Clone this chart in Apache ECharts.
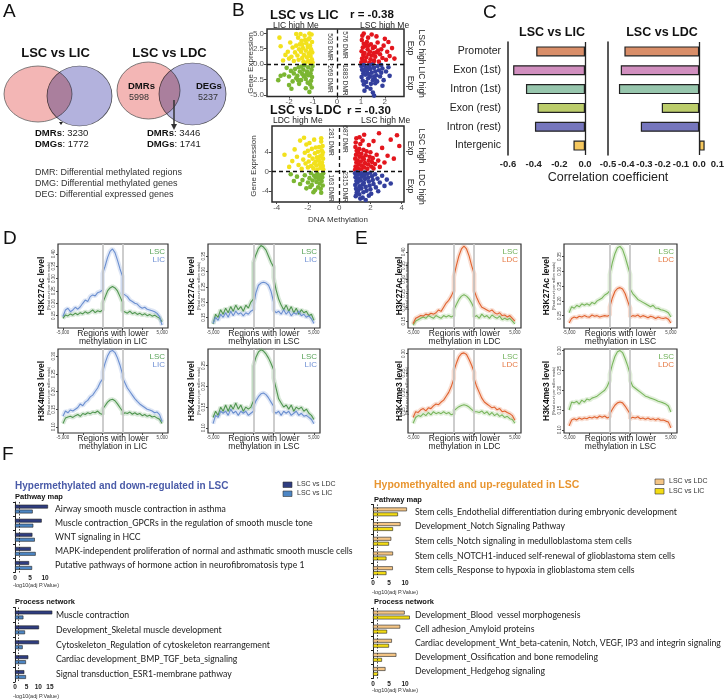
<!DOCTYPE html>
<html><head><meta charset="utf-8">
<script src="https://cdn.jsdelivr.net/npm/echarts@6/dist/echarts.min.js"></script>
<style>html,body{margin:0;padding:0;background:#fff}#c{width:727px;height:699px}</style>
</head><body><div id="c"></div><script>
// ================= DATA =================
// Panel A (Venn)
const vennLicDMRs = 3230, vennLicDMGs = 1772;
const vennLdcDMRsAll = 5998, vennLdcDEGsAll = 5237, vennLdcDMRs = 3446, vennLdcDMGs = 1741;
const vennDefs = ['DMR: Differential methylated regions', 'DMG: Differential methylated genes', 'DEG: Differential expressed genes'];

// Panel B (scatter) [methylation, expression]
const licYellow = [[-1.02,0.3],[-1.05,0.8],[-1.1,1.3],[-1.03,1.9],[-1.08,2.4],[-1.12,3.0],[-1.04,3.6],[-1.15,4.2],[-1.06,4.8],[-1.2,0.5],[-1.25,1.1],[-1.18,1.7],[-1.3,2.2],[-1.22,2.8],[-1.28,3.4],[-1.2,4.0],[-1.35,4.6],[-1.4,0.4],[-1.45,1.0],[-1.38,1.5],[-1.5,2.0],[-1.42,2.6],[-1.55,3.2],[-1.48,3.8],[-1.6,0.7],[-1.65,1.4],[-1.58,2.4],[-1.7,3.0],[-1.62,4.3],[-1.75,1.9],[-1.8,0.5],[-1.85,2.7],[-1.9,1.2],[-1.95,3.5],[-2.0,0.9],[-2.05,2.0],[-2.15,1.5],[-2.25,0.6],[-2.35,2.9],[-2.4,4.3],[-1.12,0.15],[-1.32,0.2],[-1.52,4.9],[-1.15,4.95],[-1.7,4.9],[-1.33,3.9],[-1.1,2.1],[-1.45,3.2]];
const licGreen = [[-1.02,-0.3],[-1.06,-0.9],[-1.1,-1.5],[-1.04,-2.1],[-1.08,-2.7],[-1.12,-3.3],[-1.2,-0.5],[-1.25,-1.2],[-1.18,-1.8],[-1.3,-2.4],[-1.22,-3.0],[-1.35,-0.2],[-1.4,-0.9],[-1.45,-1.6],[-1.38,-2.0],[-1.5,-2.6],[-1.55,-1.2],[-1.6,-0.5],[-1.65,-1.9],[-1.58,-3.2],[-1.7,-2.3],[-1.75,-0.8],[-1.8,-1.5],[-1.85,-2.8],[-1.92,-1.1],[-2.0,-2.0],[-2.1,-0.6],[-2.2,-1.7],[-2.35,-1.9],[-2.45,-2.6],[-2.0,-3.4],[-1.3,-3.9],[-1.15,-4.5],[-1.9,-4.0],[-1.05,-3.8],[-1.48,-0.4],[-1.28,-1.7],[-1.62,-2.6]];
const licRed = [[1.02,0.3],[1.05,0.9],[1.1,1.5],[1.03,2.1],[1.08,2.7],[1.12,3.3],[1.04,3.9],[1.06,4.6],[1.18,0.5],[1.22,1.1],[1.15,1.8],[1.28,2.4],[1.2,3.0],[1.25,3.6],[1.3,4.3],[1.35,0.2],[1.4,0.8],[1.45,1.4],[1.38,2.0],[1.5,2.6],[1.42,3.2],[1.55,0.6],[1.6,1.2],[1.65,1.9],[1.58,2.8],[1.7,3.5],[1.75,0.4],[1.8,1.6],[1.85,2.4],[1.9,1.0],[1.95,3.0],[2.05,0.7],[2.1,2.0],[2.2,1.3],[2.3,2.6],[2.4,0.9],[1.65,4.5],[2.0,4.1],[1.45,4.8],[1.12,4.95],[1.32,1.6],[1.72,2.2],[1.52,0.3],[2.15,3.6],[1.1,0.6],[1.3,3.0],[1.55,1.8]];
const licBlue = [[1.02,-0.3],[1.05,-0.9],[1.1,-1.5],[1.03,-2.1],[1.08,-2.7],[1.12,-3.3],[1.2,-0.5],[1.25,-1.1],[1.18,-1.7],[1.3,-2.3],[1.22,-2.9],[1.35,-0.2],[1.4,-0.8],[1.45,-1.4],[1.38,-2.0],[1.5,-2.6],[1.42,-3.2],[1.55,-0.6],[1.6,-1.2],[1.65,-1.8],[1.58,-2.4],[1.7,-0.3],[1.75,-1.0],[1.8,-2.0],[1.85,-1.4],[1.9,-0.7],[1.95,-2.6],[2.05,-1.2],[2.15,-0.5],[1.25,-3.7],[1.6,-3.1],[1.4,-4.0],[1.5,-4.6],[1.55,-5.1],[1.15,-4.3],[1.9,-3.5],[2.2,-1.9],[1.32,-1.6],[1.68,-2.8],[1.12,-0.15],[1.48,-0.1],[1.85,-0.15],[1.1,-1.0],[1.3,-0.7],[1.55,-2.0]];
const ldcYellow = [[-1.02,0.4],[-1.05,1.1],[-1.1,1.8],[-1.03,2.6],[-1.08,3.4],[-1.12,4.3],[-1.06,5.2],[-1.15,6.1],[-1.2,0.7],[-1.25,1.5],[-1.3,2.3],[-1.22,3.1],[-1.35,4.0],[-1.28,5.0],[-1.4,0.3],[-1.45,1.2],[-1.5,2.0],[-1.42,2.9],[-1.55,3.7],[-1.6,1.6],[-1.65,0.6],[-1.7,2.6],[-1.75,4.6],[-1.8,1.1],[-1.9,3.2],[-1.95,2.0],[-2.0,0.8],[-2.1,5.5],[-2.15,1.6],[-2.2,3.8],[-2.3,2.4],[-2.4,0.5],[-2.5,6.3],[-2.6,1.3],[-2.7,3.0],[-2.85,4.5],[-3.0,2.1],[-3.2,0.9],[-3.5,3.4],[-1.15,6.8],[-1.6,6.5],[-1.9,5.8],[-2.25,6.9],[-1.35,2.7],[-1.5,4.9],[-2.0,4.2],[-1.05,3.9]];
const ldcGreen = [[-1.02,-0.4],[-1.08,-1.2],[-1.12,-2.0],[-1.05,-2.9],[-1.18,-3.6],[-1.2,-0.8],[-1.3,-1.6],[-1.25,-2.5],[-1.35,-3.3],[-1.4,-0.5],[-1.5,-1.3],[-1.45,-2.2],[-1.55,-3.9],[-1.6,-0.9],[-1.7,-1.9],[-1.75,-2.8],[-1.8,-0.4],[-1.9,-1.4],[-2.0,-2.3],[-2.1,-3.5],[-2.2,-0.8],[-2.35,-1.8],[-2.5,-2.6],[-2.7,-1.1],[-2.9,-2.0],[-3.1,-0.6],[-1.15,-4.4],[-1.65,-4.3],[-1.38,-1.0],[-1.85,-3.2]];
const ldcRed = [[1.02,0.3],[1.05,1.0],[1.1,1.8],[1.03,2.6],[1.08,3.4],[1.12,4.2],[1.04,5.0],[1.06,5.9],[1.1,6.8],[1.2,0.6],[1.25,1.4],[1.18,2.2],[1.3,3.0],[1.22,3.8],[1.28,4.6],[1.35,5.6],[1.4,0.4],[1.45,1.2],[1.38,2.0],[1.5,2.8],[1.42,3.6],[1.55,4.4],[1.6,0.8],[1.65,1.7],[1.58,2.5],[1.7,3.3],[1.75,4.1],[1.8,0.5],[1.85,1.4],[1.9,2.2],[1.95,3.0],[2.0,3.9],[2.05,1.0],[2.1,1.9],[2.15,2.7],[2.2,0.6],[2.3,1.5],[2.4,3.4],[2.5,2.2],[2.6,0.9],[2.75,4.8],[2.9,1.8],[3.1,3.2],[3.3,6.5],[3.5,2.6],[3.7,7.4],[3.85,5.2],[2.2,6.2],[1.6,7.5],[2.55,7.8],[1.3,7.0],[1.9,5.4],[1.5,6.3]];
const ldcBlue = [[1.02,-0.4],[1.05,-1.2],[1.1,-2.0],[1.03,-2.8],[1.08,-3.6],[1.12,-4.4],[1.06,-5.1],[1.2,-0.7],[1.25,-1.5],[1.18,-2.3],[1.3,-3.1],[1.22,-3.9],[1.28,-4.7],[1.4,-0.4],[1.45,-1.1],[1.38,-1.9],[1.5,-2.7],[1.42,-3.5],[1.55,-4.3],[1.6,-0.8],[1.65,-1.6],[1.58,-2.4],[1.7,-3.2],[1.75,-4.0],[1.8,-0.5],[1.85,-1.3],[1.9,-2.1],[1.95,-2.9],[2.0,-3.7],[2.05,-4.6],[2.1,-1.0],[2.15,-1.8],[2.2,-2.6],[2.3,-0.6],[2.35,-3.3],[2.45,-1.5],[2.6,-2.3],[2.75,-0.9],[2.9,-3.0],[3.05,-1.7],[3.3,-2.5],[1.5,-5.4],[1.7,-5.9],[1.35,-5.6],[1.9,-5.0],[2.5,-4.1],[1.15,-0.2],[1.62,-0.25],[2.0,-0.3]];
const licR = '-0.38', ldcR = '-0.30';
const licDMR = [503, 576, 269, 1883];   // upper-left, upper-right, lower-left, lower-right
const ldcDMR = [281, 687, 163, 2315];
const bLicXTicks = [-2, -1, 0, 1, 2], bLicYTicks = [-5, -2.5, 0, 2.5, 5];
const bLdcXTicks = [-4, -2, 0, 2, 4], bLdcYTicks = [-4, 0, 4];

// Panel C (correlation)
const regionCats = ['Promoter', 'Exon (1st)', 'Intron (1st)', 'Exon (rest)', 'Intron (rest)', 'Intergenic'];
const corrLIC = [-0.38, -0.56, -0.46, -0.37, -0.39, -0.09];
const corrLDC = [-0.41, -0.43, -0.44, -0.205, -0.32, 0.03];

// Panels D / E (profiles)
const profileX = [-5000,-4750,-4500,-4250,-4000,-3750,-3500,-3250,-3000,-2750,-2500,-2250,-2000,-1750,-1500,-1250,-1000,
  -1000,-750,-500,-250,0,250,500,750,1000,
  1000,1250,1500,1750,2000,2250,2500,2750,3000,3250,3500,3750,4000,4250,4500,4750,5000];
const profXTicks = [-5000, -3000, -1000, 1000, 3000, 5000], profXLabels = [-5000, 5000];
const regionBounds = [-1000, 1000];
const d1TopLIC = [0.146,0.173,0.180,0.166,0.173,0.184,0.176,0.186,0.200,0.213,0.207,0.227,0.234,0.230,0.243,0.247,0.254, 0.320,0.350,0.385,0.410,0.420,0.405,0.375,0.340,0.310, 0.240,0.234,0.227,0.213,0.207,0.200,0.197,0.186,0.180,0.184,0.176,0.173,0.170,0.166,0.159,0.146,0.112];
const d1TopLSC = [0.139,0.153,0.149,0.157,0.152,0.160,0.154,0.162,0.157,0.166,0.160,0.165,0.173,0.162,0.170,0.166,0.173, 0.200,0.225,0.250,0.262,0.268,0.262,0.250,0.228,0.205, 0.170,0.165,0.160,0.168,0.158,0.163,0.155,0.160,0.152,0.158,0.150,0.155,0.148,0.152,0.145,0.140,0.125];
const d2TopLSC = [0.128,0.160,0.150,0.175,0.160,0.180,0.165,0.185,0.170,0.190,0.175,0.185,0.170,0.190,0.180,0.200,0.210, 0.330,0.355,0.375,0.385,0.380,0.370,0.350,0.330,0.315, 0.280,0.240,0.210,0.190,0.175,0.190,0.170,0.185,0.165,0.180,0.160,0.175,0.165,0.170,0.155,0.160,0.140];
const d2TopLIC = [0.130,0.150,0.140,0.160,0.150,0.165,0.150,0.170,0.155,0.170,0.160,0.165,0.155,0.165,0.160,0.170,0.175, 0.190,0.230,0.255,0.262,0.265,0.262,0.255,0.235,0.200, 0.175,0.165,0.170,0.160,0.175,0.160,0.170,0.155,0.165,0.160,0.170,0.155,0.160,0.150,0.155,0.145,0.130];
const d1BotLIC = [0.130,0.145,0.140,0.148,0.145,0.150,0.155,0.165,0.160,0.170,0.175,0.185,0.190,0.200,0.210,0.225,0.235, 0.255,0.280,0.300,0.313,0.316,0.310,0.295,0.275,0.250, 0.240,0.225,0.210,0.200,0.190,0.180,0.172,0.165,0.160,0.155,0.150,0.148,0.145,0.140,0.142,0.135,0.115];
const d1BotLSC = [0.110,0.125,0.128,0.130,0.127,0.132,0.135,0.130,0.138,0.135,0.140,0.137,0.142,0.140,0.145,0.138,0.135, 0.150,0.160,0.170,0.176,0.178,0.174,0.165,0.155,0.145, 0.135,0.140,0.138,0.142,0.136,0.140,0.135,0.138,0.132,0.135,0.130,0.133,0.128,0.130,0.125,0.122,0.110];
const d2BotLSC = [0.125,0.140,0.130,0.150,0.140,0.155,0.140,0.155,0.145,0.160,0.145,0.155,0.140,0.150,0.145,0.150,0.165, 0.250,0.270,0.283,0.288,0.285,0.278,0.268,0.255,0.240, 0.220,0.195,0.170,0.160,0.150,0.155,0.145,0.155,0.140,0.150,0.145,0.150,0.140,0.145,0.135,0.130,0.120];
const d2BotLIC = [0.110,0.130,0.125,0.140,0.135,0.140,0.130,0.145,0.135,0.140,0.130,0.140,0.135,0.140,0.130,0.135,0.140, 0.150,0.165,0.175,0.182,0.184,0.180,0.172,0.162,0.152, 0.140,0.135,0.140,0.130,0.140,0.135,0.140,0.130,0.135,0.140,0.130,0.135,0.128,0.130,0.125,0.120,0.110];
const e1TopLDC = [0.140,0.160,0.165,0.170,0.168,0.175,0.172,0.178,0.175,0.180,0.190,0.185,0.200,0.215,0.225,0.240,0.260, 0.310,0.350,0.385,0.410,0.420,0.410,0.385,0.350,0.320, 0.260,0.235,0.215,0.200,0.195,0.190,0.185,0.190,0.180,0.175,0.180,0.170,0.172,0.165,0.170,0.160,0.150];
const e1TopLSC = [0.135,0.150,0.155,0.160,0.165,0.160,0.170,0.165,0.160,0.170,0.165,0.160,0.170,0.165,0.170,0.165,0.170, 0.190,0.210,0.228,0.240,0.245,0.240,0.230,0.215,0.195, 0.165,0.170,0.160,0.175,0.165,0.170,0.160,0.172,0.165,0.160,0.168,0.155,0.160,0.155,0.160,0.150,0.140];
const e1BotLDC = [0.135,0.150,0.148,0.155,0.158,0.152,0.160,0.158,0.165,0.170,0.168,0.175,0.180,0.190,0.200,0.215,0.235, 0.255,0.275,0.292,0.300,0.302,0.298,0.285,0.270,0.252, 0.235,0.215,0.200,0.185,0.175,0.170,0.165,0.160,0.162,0.155,0.158,0.150,0.152,0.148,0.145,0.140,0.128];
const e1BotLSC = [0.120,0.135,0.140,0.138,0.145,0.140,0.148,0.142,0.150,0.145,0.148,0.145,0.150,0.145,0.148,0.142,0.145, 0.152,0.158,0.163,0.166,0.168,0.166,0.162,0.156,0.150, 0.145,0.150,0.148,0.152,0.145,0.150,0.142,0.148,0.140,0.145,0.138,0.142,0.135,0.138,0.132,0.130,0.120];
const e2TopLSC = [0.160,0.180,0.175,0.185,0.180,0.190,0.185,0.190,0.185,0.195,0.190,0.200,0.205,0.210,0.220,0.225,0.235, 0.290,0.330,0.360,0.380,0.385,0.375,0.350,0.320,0.290, 0.240,0.225,0.215,0.205,0.200,0.195,0.190,0.185,0.180,0.185,0.175,0.175,0.170,0.168,0.165,0.160,0.145];
const e2TopLDC = [0.125,0.140,0.145,0.142,0.148,0.145,0.150,0.146,0.145,0.152,0.148,0.150,0.145,0.148,0.150,0.148,0.152, 0.180,0.210,0.232,0.242,0.245,0.240,0.225,0.200,0.175, 0.145,0.150,0.148,0.152,0.145,0.150,0.147,0.143,0.148,0.145,0.140,0.145,0.142,0.140,0.143,0.138,0.125];
const e2BotLSC = [0.150,0.170,0.168,0.172,0.165,0.175,0.170,0.178,0.175,0.180,0.182,0.185,0.190,0.195,0.200,0.210,0.225, 0.240,0.265,0.285,0.297,0.300,0.295,0.280,0.262,0.240, 0.225,0.210,0.205,0.200,0.195,0.190,0.185,0.183,0.180,0.178,0.175,0.172,0.170,0.168,0.165,0.160,0.145];
const e2BotLDC = [0.110,0.125,0.128,0.125,0.130,0.127,0.130,0.128,0.132,0.130,0.133,0.130,0.135,0.132,0.135,0.130,0.133, 0.140,0.152,0.162,0.168,0.170,0.168,0.160,0.150,0.140, 0.128,0.132,0.130,0.133,0.128,0.130,0.127,0.130,0.126,0.128,0.125,0.128,0.124,0.125,0.122,0.120,0.105];

// Panel F (enrichment, -log10 adj P)
const hyperPathNames = ['Airway smooth muscle contraction in asthma', 'Muscle contraction_GPCRs in the regulation of smooth muscle tone', 'WNT signaling in HCC', 'MAPK-independent proliferation of normal and asthmatic smooth muscle cells', 'Putative pathways of hormone action in neurofibromatosis type 1'];
const hyperPathLDC = [11, 8.9, 5.8, 5.3, 4.7];
const hyperPathLIC = [5.9, 6.1, 6.6, 6.9, 5.7];
const hyperProcNames = ['Muscle contraction', 'Development_Skeletal muscle development', 'Cytoskeleton_Regulation of cytoskeleton rearrangement', 'Cardiac development_BMP_TGF_beta_signaling', 'Signal transduction_ESR1-membrane pathway'];
const hyperProcLDC = [16, 10.3, 10.3, 5.7, 4.0];
const hyperProcLIC = [3.6, 4.3, 3.3, 4.7, 4.7];
const hypoPathNames = ['Stem cells_Endothelial differentiation during embryonic development', 'Development_Notch Signaling Pathway', 'Stem cells_Notch signaling in medulloblastoma stem cells', 'Stem cells_NOTCH1-induced self-renewal of glioblastoma stem cells', 'Stem cells_Response to hypoxia in glioblastoma stem cells'];
const hypoPathLDC = [10.6, 8.6, 5.7, 6.25, 6.2];
const hypoPathLIC = [7.8, 6.25, 5.0, 4.2, 4.2];
const hypoProcNames = ['Development_Blood  vessel morphogenesis', 'Cell adhesion_Amyloid proteins', 'Cardiac development_Wnt_beta-catenin, Notch, VEGF, IP3 and integrin signaling', 'Development_Ossification and bone remodeling', 'Development_Hedgehog signaling'];
const hypoProcLDC = [9.9, 8.5, 5.9, 7.3, 3.9];
const hypoProcLIC = [11.5, 4.4, 5.0, 2.8, 1.6];
const sigThreshold = 1.3;
const fTicks10 = [0, 5, 10], fTicks15 = [0, 5, 10, 15];

// ================= BUILD =================
const FONT = '"Liberation Sans", Arial, Helvetica, sans-serif';
const LFONT = 'Lato, "Liberation Sans", sans-serif';
const grids = [], xAxes = [], yAxes = [], series = [], G = [];

function T(x, y, text, o) {
  o = o || {};
  const st = { text: text, fill: o.color || '#222', fontSize: o.size || 9, fontWeight: o.weight || 'normal',
    fontFamily: o.family || FONT, align: o.align || 'left', verticalAlign: o.va || 'middle',
    textAlign: o.align || 'left', textVerticalAlign: o.va || 'middle' };
  if (o.rich) st.rich = o.rich;
  G.push({ type: 'text', x: x, y: y, rotation: o.rot || 0, scaleX: o.sx || 1, z: 100, silent: true, style: st });
}
function addGrid(g, x, y) {
  const i = grids.length;
  grids.push(g);
  x.gridIndex = i; y.gridIndex = i;
  x.axisLine = Object.assign({ onZero: false }, x.axisLine || {});
  y.axisLine = Object.assign({ onZero: false }, y.axisLine || {});
  x.splitLine = { show: false }; y.splitLine = { show: false };
  xAxes.push(x); yAxes.push(y);
  return i;
}

// ---------- Panel letters ----------
[['A', 3, 12], ['B', 232, 11], ['C', 483, 13], ['D', 3, 239], ['E', 355, 239], ['F', 2, 455]].forEach(function (p) {
  T(p[1], p[2], p[0], { size: 19, color: '#111' });
});

// ---------- Panel A ----------
function ell(cx, cy, rx, ry, fill, blend) {
  G.push({ type: 'circle', x: cx, y: cy, scaleY: ry / rx, shape: { cx: 0, cy: 0, r: rx }, z: 10, silent: true,
    style: { fill: fill, stroke: '#555', lineWidth: 0.8, blend: blend || 'source-over' } });
}
ell(38, 94, 34, 28, '#f3b6b5');
ell(79.5, 96, 32.5, 30, '#b3b2dd', 'multiply');
ell(148.5, 90.5, 31.5, 28.5, '#f3b6b5');
ell(192.5, 94, 33.5, 31, '#b3b2dd', 'multiply');
T(55.5, 53, 'LSC vs LIC', { size: 13, weight: 'bold', align: 'center', color: '#111' });
T(169.5, 53, 'LSC vs LDC', { size: 13, weight: 'bold', align: 'center', color: '#111' });
G.push({ type: 'polygon', shape: { points: [[59, 122], [63, 122], [61, 125]] }, z: 20, silent: true, style: { fill: '#222' } });
G.push({ type: 'line', shape: { x1: 174, y1: 100, x2: 174, y2: 125 }, z: 20, silent: true, style: { stroke: '#333', lineWidth: 1.5 } });
G.push({ type: 'polygon', shape: { points: [[171, 124], [177, 124], [174, 130]] }, z: 20, silent: true, style: { fill: '#333' } });
const richB = { b: { fontWeight: 'bold', fontSize: 9.5, fontFamily: FONT, fill: '#111' } };
T(35, 133, '{b|DMRs}: ' + vennLicDMRs, { size: 9.5, rich: richB });
T(35, 144, '{b|DMGs}: ' + vennLicDMGs, { size: 9.5, rich: richB });
T(147, 133, '{b|DMRs}: ' + vennLdcDMRs, { size: 9.5, rich: richB });
T(147, 144, '{b|DMGs}: ' + vennLdcDMGs, { size: 9.5, rich: richB });
T(128, 86, 'DMRs', { size: 9.5, weight: 'bold', color: '#111' });
T(129, 98, String(vennLdcDMRsAll), { size: 9, color: '#333' });
T(196, 86, 'DEGs', { size: 9.5, weight: 'bold', color: '#111' });
T(198, 98, String(vennLdcDEGsAll), { size: 9, color: '#333' });
vennDefs.forEach(function (t, k) { T(35, 173 + 11 * k, t, { size: 9, color: '#333' }); });

// ---------- Panel B ----------
function scatterPanel(box, xr, yr, xt, yt, yfmt, groups) {
  const i = addGrid({ left: box[0], top: box[1], width: box[2], height: box[3], show: true, borderColor: '#2a2a2a', borderWidth: 1.5 },
    { type: 'value', min: xr[0], max: xr[1], axisLine: { show: false },
      axisTick: { show: true, customValues: xt, length: 2, lineStyle: { color: '#444' } },
      axisLabel: { customValues: xt, fontSize: 8, color: '#555', margin: 1.5, fontFamily: FONT } },
    { type: 'value', min: yr[0], max: yr[1], axisLine: { show: false },
      axisTick: { show: true, customValues: yt, length: 3, lineStyle: { color: '#444' } },
      axisLabel: { customValues: yt, formatter: yfmt, fontSize: 8, color: '#555', margin: 3, fontFamily: FONT } });
  groups.forEach(function (g, k) {
    const s = { type: 'scatter', xAxisIndex: i, yAxisIndex: i, data: g[0], symbolSize: 4.6, itemStyle: { color: g[1], opacity: 1 }, silent: true };
    if (k === 0) s.markLine = { silent: true, symbol: 'none', label: { show: false }, animation: false,
      lineStyle: { type: [4, 3], color: '#111', width: 1.3 }, data: [{ xAxis: 0 }, { yAxis: 0 }] };
    series.push(s);
  });
}
const YEL = '#f2e11c', GRN = '#7bb632', RED = '#e3161d', BLU = '#333f9d';
scatterPanel([267, 29, 137, 67.5], [-2.92, 2.8], [-5.25, 5.7], bLicXTicks, bLicYTicks, function (v) { return v.toFixed(1); },
  [[licYellow, YEL], [licGreen, GRN], [licRed, RED], [licBlue, BLU]]);
scatterPanel([272, 126, 132, 76], [-4.3, 4.15], [-6.3, 9.3], bLdcXTicks, bLdcYTicks, function (v) { return String(v); },
  [[ldcYellow, YEL], [ldcGreen, GRN], [ldcRed, RED], [ldcBlue, BLU]]);
T(270, 15, 'LSC vs LIC', { size: 13, weight: 'bold', color: '#111' });
T(350, 15, 'r = ' + licR, { size: 11.5, weight: 'bold', color: '#111' });
T(270, 111, 'LSC vs LDC', { size: 12.5, weight: 'bold', color: '#111' });
T(347, 111, 'r = ' + ldcR, { size: 11.5, weight: 'bold', color: '#111' });
T(273, 26, 'LIC high Me', { size: 8.5, color: '#222' });
T(360, 26, 'LSC high Me', { size: 8.5, color: '#222' });
T(273, 121, 'LDC high Me', { size: 8.5, color: '#222' });
T(361, 121, 'LSC high Me', { size: 8.5, color: '#222' });
T(251, 63, 'Gene Expression', { size: 8, rot: Math.PI / 2, align: 'center', color: '#333' });
T(254, 166, 'Gene Expression', { size: 8, rot: Math.PI / 2, align: 'center', color: '#333' });
T(338, 220, 'DNA Methylation', { size: 8, align: 'center', color: '#333' });
const dmrOpt = { size: 6.5, rot: -Math.PI / 2, align: 'center', color: '#333' };
T(330, 47, licDMR[0] + ' DMR', dmrOpt); T(345, 45, licDMR[1] + ' DMR', dmrOpt);
T(330, 79, licDMR[2] + ' DMR', dmrOpt); T(345, 80, licDMR[3] + ' DMR', dmrOpt);
T(331, 142, ldcDMR[0] + ' DMR', dmrOpt); T(345, 139, ldcDMR[1] + ' DMR', dmrOpt);
T(331, 188, ldcDMR[2] + ' DMR', dmrOpt); T(345, 187, ldcDMR[3] + ' DMR', dmrOpt);
const sideOpt = { size: 8.5, rot: -Math.PI / 2, align: 'center', color: '#222' };
T(421, 47, 'LSC high', sideOpt); T(410, 48, 'Exp', sideOpt);
T(421, 82, 'LIC high', sideOpt); T(410, 83, 'Exp', sideOpt);
T(421, 146, 'LSC high', sideOpt); T(410, 148, 'Exp', sideOpt);
T(421, 187, 'LDC high', sideOpt); T(410, 186, 'Exp', sideOpt);

// ---------- Panel C ----------
const regionColors = ['#d98e69', '#d18fbf', '#97c6ad', '#bccd6b', '#7676bd', '#f6c85e'];
function corrPanel(left, width, xr, xint, values, showLabels) {
  const i = addGrid({ left: left, top: 42, width: width, height: 113 },
    { type: 'value', min: xr[0], max: xr[1], interval: xint,
      axisLine: { lineStyle: { color: '#222', width: 1.5 } },
      axisTick: { length: 4, lineStyle: { color: '#222', width: 1.2 } },
      axisLabel: { fontSize: 9.5, fontWeight: 'bold', color: '#222', margin: 4, fontFamily: FONT,
        formatter: function (v) { return Math.abs(v) < 1e-9 ? '0.0' : v.toFixed(1); } } },
    { type: 'category', data: regionCats, inverse: true,
      axisLine: { lineStyle: { color: '#222', width: 1.5 } },
      axisTick: { alignWithLabel: true, length: 4, lineStyle: { color: '#222', width: 1.2 } },
      axisLabel: { show: showLabels, interval: 0, fontSize: 10.5, color: '#222', margin: 7, fontFamily: FONT } });
  series.push({ type: 'bar', xAxisIndex: i, yAxisIndex: i, barWidth: 10, silent: true,
    data: values.map(function (v, k) { return { value: v, itemStyle: { color: regionColors[k] } }; }),
    itemStyle: { borderColor: '#222', borderWidth: 1.2 },
    markLine: { silent: true, symbol: 'none', label: { show: false }, lineStyle: { type: 'solid', color: '#222', width: 1.3 }, data: [{ xAxis: 0 }] } });
}
corrPanel(508, 77, [-0.6, 0], 0.2, corrLIC, true);
corrPanel(608, 114, [-0.5, 0.1], 0.1, corrLDC, false);
T(552, 33, 'LSC vs LIC', { size: 12.5, weight: 'bold', align: 'center', color: '#111' });
T(662, 33, 'LSC vs LDC', { size: 12.5, weight: 'bold', align: 'center', color: '#111' });
T(608, 178, 'Correlation coefficient', { size: 12.5, align: 'center', color: '#222' });

// ---------- Panels D / E ----------
const GREEN_D = '#4f954f', BLUE_D = '#6b8fd0', GREEN_E = '#79b65d', ORANGE_E = '#e0622f';
const profCols = [{ left: 58, w: 110, yl: 42 }, { left: 208, w: 112, yl: 192 }, { left: 408, w: 113, yl: 400 }, { left: 564, w: 113, yl: 547 }];
const profRows = [{ top: 244, h: 84 }, { top: 349, h: 84 }];
const profiles = [
  { c: 0, r: 0, yr: [0.10, 0.44], yt: [0.15, 0.2, 0.25, 0.3, 0.35, 0.4], a: d1TopLSC, b: d1TopLIC, ca: GREEN_D, cb: BLUE_D, la: 'LSC', lb: 'LIC', mark: 'H3K27Ac level', cell: 'LIC' },
  { c: 1, r: 0, yr: [0.115, 0.39], yt: [0.15, 0.2, 0.25, 0.3, 0.35], a: d2TopLSC, b: d2TopLIC, ca: GREEN_D, cb: BLUE_D, la: 'LSC', lb: 'LIC', mark: 'H3K27Ac level', cell: 'LSC' },
  { c: 2, r: 0, yr: [0.125, 0.428], yt: [0.15, 0.2, 0.25, 0.3, 0.35, 0.4], a: e1TopLSC, b: e1TopLDC, ca: GREEN_E, cb: ORANGE_E, la: 'LSC', lb: 'LDC', mark: 'H3K27Ac level', cell: 'LDC' },
  { c: 3, r: 0, yr: [0.108, 0.393], yt: [0.15, 0.2, 0.25, 0.3, 0.35], a: e2TopLSC, b: e2TopLDC, ca: GREEN_E, cb: ORANGE_E, la: 'LSC', lb: 'LDC', mark: 'H3K27Ac level', cell: 'LSC' },
  { c: 0, r: 1, yr: [0.083, 0.32], yt: [0.1, 0.15, 0.2, 0.25, 0.3], a: d1BotLSC, b: d1BotLIC, ca: GREEN_D, cb: BLUE_D, la: 'LSC', lb: 'LIC', mark: 'H3K4me3 level', cell: 'LIC' },
  { c: 1, r: 1, yr: [0.0875, 0.29], yt: [0.1, 0.15, 0.2, 0.25], a: d2BotLSC, b: d2BotLIC, ca: GREEN_D, cb: BLUE_D, la: 'LSC', lb: 'LIC', mark: 'H3K4me3 level', cell: 'LSC' },
  { c: 2, r: 1, yr: [0.095, 0.312], yt: [0.15, 0.2, 0.25, 0.3], a: e1BotLSC, b: e1BotLDC, ca: GREEN_E, cb: ORANGE_E, la: 'LSC', lb: 'LDC', mark: 'H3K4me3 level', cell: 'LDC' },
  { c: 3, r: 1, yr: [0.092, 0.304], yt: [0.1, 0.15, 0.2, 0.25, 0.3], a: e2BotLSC, b: e2BotLDC, ca: GREEN_E, cb: ORANGE_E, la: 'LSC', lb: 'LDC', mark: 'H3K4me3 level', cell: 'LSC' }
];
const legColor = { LSC_D: '#5aa45a', LSC_E: '#6fb058', LIC: '#6f90d4', LDC: '#e67a45' };
profiles.forEach(function (p) {
  const col = profCols[p.c], row = profRows[p.r];
  const lab = { fontSize: 4.5, color: '#444', margin: 2, fontFamily: FONT };
  const i = addGrid({ left: col.left, top: row.top, width: col.w, height: row.h, show: true, borderColor: '#333', borderWidth: 1.2 },
    { type: 'value', min: -5500, max: 5600, axisLine: { show: false },
      axisTick: { customValues: profXTicks, length: 2, lineStyle: { color: '#444' } },
      axisLabel: Object.assign({ customValues: profXLabels }, lab) },
    { type: 'value', min: p.yr[0], max: p.yr[1], axisLine: { show: false },
      axisTick: { customValues: p.yt, length: 2, lineStyle: { color: '#444' } },
      axisLabel: Object.assign({ customValues: p.yt, rotate: 90, formatter: function (v) { return v.toFixed(2); } }, lab) });
  [[p.a, p.ca], [p.b, p.cb]].forEach(function (pair, k) {
    const d = profileX.map(function (x, j) { return [x, pair[0][j]]; });
    const band = { type: 'line', xAxisIndex: i, yAxisIndex: i, data: d, symbol: 'none', silent: true, z: 2,
      lineStyle: { color: pair[1], width: 4.5, opacity: 0.22 } };
    if (k === 0) band.markLine = { silent: true, symbol: 'none', label: { show: false },
      lineStyle: { type: 'solid', color: '#c8c8c8', width: 1.8 }, data: regionBounds.map(function (v) { return { xAxis: v }; }) };
    series.push(band);
    series.push({ type: 'line', xAxisIndex: i, yAxisIndex: i, data: d, symbol: 'none', silent: true, z: 3,
      lineStyle: { color: pair[1], width: 1.1 } });
  });
  const rx = col.left + col.w - 3;
  T(rx, row.top + 8, p.la, { size: 8, align: 'right', color: p.c < 2 ? legColor.LSC_D : legColor.LSC_E });
  T(rx, row.top + 16, p.lb, { size: 8, align: 'right', color: legColor[p.lb] });
  const cy = row.top + row.h / 2;
  T(col.yl, cy, p.mark, { size: 8.5, weight: 'bold', rot: Math.PI / 2, align: 'center', color: '#111' });
  T(col.yl + 6.5, cy, '(Read count per million reads)', { size: 3.6, rot: Math.PI / 2, align: 'center', color: '#333' });
  const cx = col.left + col.w / 2, by = row.top + row.h;
  T(cx, by + 6, 'Regions with lower', { size: 8.5, align: 'center', color: '#222' });
  T(cx, by + 14, 'methylation in ' + p.cell, { size: 8.5, align: 'center', color: '#222' });
});

// ---------- Panel F ----------
function enrichPanel(left, top, width, height, xmax, xt, names, a, b, ca, cb, margin) {
  const i = addGrid({ left: left, top: top, width: width, height: height },
    { type: 'value', min: 0, max: xmax,
      axisLine: { lineStyle: { color: '#222', width: 1 } },
      axisTick: { customValues: xt, length: 2, lineStyle: { color: '#222' } },
      axisLabel: { customValues: xt, fontSize: 6.5, fontWeight: 'bold', color: '#222', margin: 2, fontFamily: FONT } },
    { type: 'category', data: names, inverse: true,
      axisLine: { lineStyle: { color: '#222', width: 1 } },
      axisTick: { show: true, length: 2, lineStyle: { color: '#222' } },
      axisLabel: { inside: true, interval: 0, margin: margin, align: 'left', fontSize: 8.7, color: '#1a1a1a', fontFamily: LFONT } });
  series.push({ type: 'bar', xAxisIndex: i, yAxisIndex: i, data: a, barWidth: 3.8, barGap: '30%', silent: true,
    itemStyle: { color: ca, borderColor: '#222', borderWidth: 0.6 },
    markLine: { silent: true, symbol: 'none', label: { show: false }, lineStyle: { type: [1.5, 1.5], color: '#222', width: 0.8 }, data: [{ xAxis: sigThreshold }] } });
  series.push({ type: 'bar', xAxisIndex: i, yAxisIndex: i, data: b, barWidth: 3.8, barGap: '30%', silent: true,
    itemStyle: { color: cb, borderColor: '#222', borderWidth: 0.6 } });
}
const NAVY = '#2f3d80', LBLUE = '#4d86c4', LORANGE = '#f4c585', YELLOW = '#f3dc14';
enrichPanel(15, 502, 36, 70.5, 12, fTicks10, hyperPathNames, hyperPathLDC, hyperPathLIC, NAVY, LBLUE, 40);
enrichPanel(15, 607.5, 37.3, 74.5, 16, fTicks15, hyperProcNames, hyperProcLDC, hyperProcLIC, NAVY, LBLUE, 41);
enrichPanel(373, 504.5, 38.4, 73.5, 12, fTicks10, hypoPathNames, hypoPathLDC, hypoPathLIC, LORANGE, YELLOW, 42);
enrichPanel(373, 608, 38.4, 70.5, 12, fTicks10, hypoProcNames, hypoProcLDC, hypoProcLIC, LORANGE, YELLOW, 42);
T(15, 486, 'Hypermethylated and down-regulated in LSC', { size: 11.5, weight: 'bold', color: '#4a5ba8', sx: 0.87 });
T(374, 485, 'Hypomethyalted and up-regulated in LSC', { size: 11.5, weight: 'bold', color: '#e89530', sx: 0.91 });
T(15, 497, 'Pathway map', { size: 7.5, weight: 'bold', color: '#111' });
T(15, 602, 'Process network', { size: 7.5, weight: 'bold', color: '#111' });
T(374, 500, 'Pathway map', { size: 7.5, weight: 'bold', color: '#111' });
T(374, 602, 'Process network', { size: 7.5, weight: 'bold', color: '#111' });
T(13, 585, '-log10(adj P.Value)', { size: 5.5, color: '#333' });
T(13, 696, '-log10(adj P.Value)', { size: 5.5, color: '#333' });
T(372, 592, '-log10(adj P.Value)', { size: 5.5, color: '#333' });
T(372, 690, '-log10(adj P.Value)', { size: 5.5, color: '#333' });
function legBox(x, y, fill) { G.push({ type: 'rect', shape: { x: x, y: y, width: 9, height: 5.5 }, z: 20, silent: true, style: { fill: fill, stroke: '#333', lineWidth: 0.6 } }); }
legBox(283, 482, NAVY); legBox(283, 491, LBLUE);
T(297, 484.5, 'LSC vs LDC', { size: 7, color: '#333' });
T(297, 493.5, 'LSC vs LIC', { size: 7, color: '#333' });
legBox(655, 479, LORANGE); legBox(655, 488.5, YELLOW);
T(669, 481.5, 'LSC vs LDC', { size: 7, color: '#333' });
T(669, 491, 'LSC vs LIC', { size: 7, color: '#333' });

// ================= RENDER =================
const chart = echarts.init(document.getElementById('c'), null, { renderer: 'canvas' });
chart.setOption({
  backgroundColor: '#fff', animation: false,
  textStyle: { fontFamily: FONT },
  grid: grids, xAxis: xAxes, yAxis: yAxes, series: series,
  graphic: { elements: G }
});
</script></body></html>
